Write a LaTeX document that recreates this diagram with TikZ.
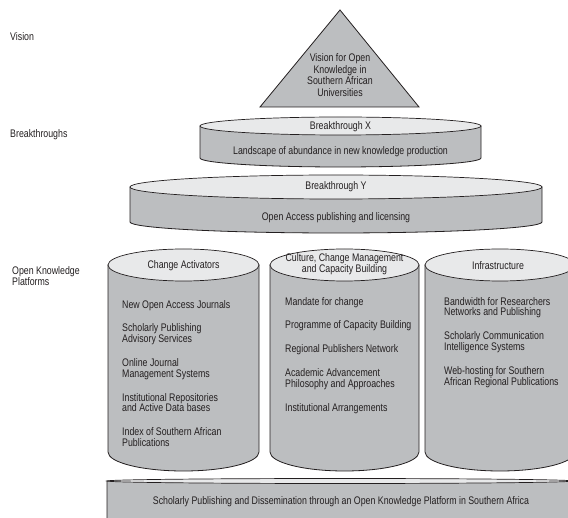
\documentclass[tikz,border=0pt]{standalone}
\usepackage{fontspec}
\setmainfont{Liberation Sans}[FakeStretch=0.8]
\usetikzlibrary{positioning}

\definecolor{bodygray}{HTML}{BCBEC0}
\definecolor{lidgray}{HTML}{E8E9EA}
\definecolor{inkgray}{HTML}{231F20}

% drum: cx, y top, y bottom, rx, ry of lid, ry of base
\newcommand{\drum}[6]{%
  \draw[drum body] (#1-#4,-#2) -- (#1-#4,-#3)
    arc[start angle=180,end angle=360,x radius=#4pt,y radius=#6pt]
    -- (#1+#4,-#2) -- cycle;
  \draw[drum lid] (#1,-#2) ellipse[x radius=#4pt,y radius=#5pt];}

\begin{document}
\begin{tikzpicture}[x=1pt,y=1pt,
    drum body/.style={fill=bodygray,draw=inkgray,line width=0.8pt},
    drum lid/.style={fill=lidgray,draw=inkgray,line width=0.7pt},
    every node/.style={font=\fontsize{11}{10.8}\selectfont,text=inkgray,inner sep=0pt},
    itemlist/.style={align=left,anchor=north west},
    lidtext/.style={align=center}]
\useasboundingbox (0,0) rectangle (568,-518);

% vision
\draw[drum body] (340,-10) -- (419,-107) -- (260,-107) -- cycle;
\node[align=center,font=\fontsize{11}{11.8}\selectfont] (vision) at (340,-75)
  {Vision for Open\\Knowledge in\\Southern African\\Universities};

% breakthroughs
\drum{340.5}{126}{158}{140.5}{9}{9}
\node (bx) at (340.5,-127) {Breakthrough X};
\node (bxtext) at (340.5,-152) {Landscape of abundance in new knowledge production};

\drum{336}{187}{222}{206}{12}{11}
\node (by) at (336,-187) {Breakthrough Y};
\node (bytext) at (336,-218) {Open Access publishing and licensing};

% platforms
\drum{183.5}{265}{452}{75.5}{16}{19}
\drum{344.5}{265}{452}{74.5}{16}{19}
\drum{500}{265}{452}{75}{16}{19}

\node[lidtext] (activators) at (183.5,-266) {Change Activators};
\node[lidtext,font=\fontsize{11}{9.8}\selectfont] (culture) at (344.5,-264)
  {Culture, Change Management\\and Capacity Building};
\node[lidtext] (infra) at (498,-266) {Infrastructure};

\node[itemlist] (activatorlist) at (122,-300)
  {New Open Access Journals\\[13pt]
   Scholarly Publishing\\Advisory Services\\[13pt]
   Online Journal\\Management Systems\\[13pt]
   Institutional Repositories\\and Active Data bases\\[13pt]
   Index of Southern African\\Publications};
\node[itemlist] (culturelist) at (285,-297)
  {Mandate for change\\[13pt]
   Programme of Capacity Building\\[13pt]
   Regional Publishers Network\\[13pt]
   Academic Advancement\\Philosophy and Approaches\\[13pt]
   Institutional Arrangements};
\node[itemlist] (infralist) at (444,-297)
  {Bandwidth for Researchers\\Networks and Publishing\\[13pt]
   Scholarly Communication\\Intelligence Systems\\[13pt]
   Web-hosting for Southern\\African Regional Publications};

% base platform
\drum{340}{481}{560}{233}{2.5}{10}
\node (base) at (341,-502)
  {Scholarly Publishing and Dissemination through an Open Knowledge Platform in Southern Africa};

% level labels
\node[anchor=west] (visionlabel) at (10,-37) {Vision};
\node[anchor=west] (breaklabel) at (10,-135) {Breakthroughs};
\node[anchor=west,align=left,font=\fontsize{11}{10}\selectfont] (platformlabel) at (12,-276)
  {Open Knowledge\\Platforms};
\end{tikzpicture}
\end{document}
